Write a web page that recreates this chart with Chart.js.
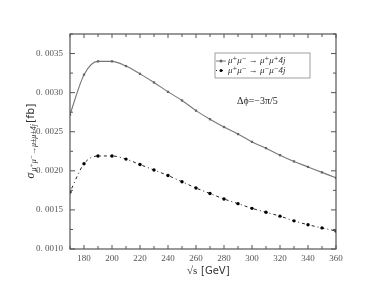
<!DOCTYPE html>
<html lang="en">
<head>
    <meta charset="UTF-8">
    <title>Cross section vs sqrt(s)</title>
    <script src="https://cdn.jsdelivr.net/npm/chart.js@4.4.1/dist/chart.umd.min.js"></script>
    <style>
        html, body { margin: 0; padding: 0; background: #fff; }
        #wrap { width: 390px; height: 299px; position: relative; }
    </style>
</head>
<body>
    <div id="wrap"><canvas id="chartSigma"></canvas></div>

    <script>
        // energies (GeV) and cross sections (fb)
        const energies = [170, 180, 190, 200, 210, 220, 230, 240, 250, 260, 270, 280, 290, 300, 310, 320, 330, 340, 350, 360];
        const sigmaPlusPlus = [0.00272, 0.00323, 0.00340, 0.00340, 0.00334, 0.00324, 0.00313, 0.00301, 0.00290, 0.00277,
                               0.00266, 0.00256, 0.00247, 0.00237, 0.00229, 0.00220, 0.00212, 0.00205, 0.00198, 0.00191];
        const sigmaMinusMinus = [0.00173, 0.00209, 0.00219, 0.00219, 0.00215, 0.00208, 0.00201, 0.00194, 0.00186, 0.00178,
                                 0.00171, 0.00164, 0.00158, 0.00152, 0.00147, 0.00142, 0.00136, 0.00131, 0.00127, 0.00123];
        const seriesNames = ['\u03BC\u207A\u03BC\u207B \u2192 \u03BC\u207A\u03BC\u207A4j', '\u03BC\u207A\u03BC\u207B \u2192 \u03BC\u207B\u03BC\u207B4j'];
        const xTickLabels = ['180', '200', '220', '240', '260', '280', '300', '320', '340', '360'];
        const yTickLabels = ['0. 0010', '0. 0015', '0. 0020', '0. 0025', '0. 0030', '0. 0035'];

        const serif = '"Liberation Serif", "DejaVu Serif", serif';
        const frameColor = '#555';

        // frame, inward ticks, legend, annotation and axis titles
        const decorations = {
            id: 'decorations',
            afterDraw(chart) {
                const ctx = chart.ctx;
                const a = chart.chartArea;
                const xs = chart.scales.x, ys = chart.scales.y;
                ctx.save();
                ctx.strokeStyle = frameColor;
                ctx.lineWidth = 1.2;
                ctx.strokeRect(a.left, a.top, a.right - a.left, a.bottom - a.top);
                ctx.lineWidth = 1;
                for (let v = 170; v <= 360; v += 10) {
                    const px = xs.getPixelForValue(v);
                    const len = v % 20 === 0 ? 4 : 3;
                    ctx.beginPath();
                    ctx.moveTo(px, a.bottom); ctx.lineTo(px, a.bottom - len);
                    ctx.moveTo(px, a.top); ctx.lineTo(px, a.top + len);
                    ctx.stroke();
                }
                for (let k = 4; k <= 15; k++) {
                    const py = ys.getPixelForValue(k * 0.00025);
                    const len = k % 2 === 0 ? 5 : 3;
                    ctx.beginPath();
                    ctx.moveTo(a.left, py); ctx.lineTo(a.left + len, py);
                    ctx.moveTo(a.right, py); ctx.lineTo(a.right - len, py);
                    ctx.stroke();
                }

                // legend box
                const lx = 215, ly = 53, lw = 95, lh = 25;
                ctx.strokeStyle = '#888';
                ctx.lineWidth = 0.8;
                ctx.strokeRect(lx, ly, lw, lh);
                const rows = [ly + 8, ly + 17.5];
                chart.data.datasets.forEach((ds, i) => {
                    ctx.strokeStyle = ds.borderColor;
                    ctx.lineWidth = 1;
                    ctx.setLineDash(ds.borderDash || []);
                    ctx.beginPath();
                    ctx.moveTo(lx + 1, rows[i]); ctx.lineTo(lx + 11, rows[i]);
                    ctx.stroke();
                    ctx.setLineDash([]);
                    ctx.fillStyle = ds.pointBackgroundColor;
                    ctx.beginPath();
                    ctx.arc(lx + 6, rows[i], 1.5, 0, Math.PI * 2);
                    ctx.fill();
                    ctx.fillStyle = '#333';
                    ctx.font = 'italic 9px ' + serif;
                    ctx.textBaseline = 'middle';
                    ctx.fillText(ds.label, lx + 13, rows[i]);
                });

                // annotation
                ctx.fillStyle = '#222';
                ctx.font = '10px ' + serif;
                ctx.textBaseline = 'middle';
                ctx.fillText('\u0394\u03D5=\u22123\u03C0/5', 237, 101);

                // x title
                ctx.fillStyle = '#333';
                ctx.font = '11px ' + serif;
                ctx.fillText('\u221As', 187, 271);
                ctx.font = '10px "DejaVu Sans", sans-serif';
                ctx.fillText('[GeV]', 201, 271);

                // y title (rotated)
                ctx.translate(31, 142);
                ctx.rotate(-Math.PI / 2);
                ctx.textBaseline = 'middle';
                const parts = [
                    { t: '\u03C3', f: 'italic 12px ' + serif, dy: 0 },
                    { t: '\u03BC\u207A\u03BC\u207B\u2192\u03BC\u00B1\u03BC\u00B14j', f: 'italic 8px ' + serif, dy: 3 },
                    { t: '[fb]', f: '11px "DejaVu Sans", sans-serif', dy: 0 }
                ];
                let total = 0;
                parts.forEach(p => { ctx.font = p.f; total += ctx.measureText(p.t).width; });
                let cx = -total / 2;
                parts.forEach(p => {
                    ctx.font = p.f;
                    ctx.fillText(p.t, cx, p.dy);
                    cx += ctx.measureText(p.t).width + 1;
                });
                ctx.restore();
            }
        };

        const ctxSigma = document.getElementById('chartSigma').getContext('2d');
        new Chart(ctxSigma, {
            type: 'line',
            data: {
                datasets: [
                    {
                        label: seriesNames[0],
                        data: energies.map((e, i) => ({ x: e, y: sigmaPlusPlus[i] })),
                        borderColor: '#777',
                        borderWidth: 1.1,
                        pointRadius: 1.6,
                        pointStyle: 'rect',
                        pointBackgroundColor: '#666',
                        pointBorderWidth: 0,
                        cubicInterpolationMode: 'monotone'
                    },
                    {
                        label: seriesNames[1],
                        data: energies.map((e, i) => ({ x: e, y: sigmaMinusMinus[i] })),
                        borderColor: '#222',
                        borderWidth: 1,
                        borderDash: [1, 3, 3, 3],
                        pointRadius: 1.7,
                        pointBackgroundColor: '#000',
                        pointBorderWidth: 0,
                        cubicInterpolationMode: 'monotone'
                    }
                ]
            },
            options: {
                responsive: true,
                maintainAspectRatio: false,
                animation: false,
                layout: { padding: { left: 0, right: 54, top: 34, bottom: 0 } },
                plugins: { legend: { display: false }, tooltip: { enabled: false } },
                scales: {
                    x: {
                        type: 'linear',
                        min: 170, max: 360,
                        grid: { display: false, drawTicks: false },
                        border: { display: false },
                        afterFit(s) { s.height = 50; },
                        afterBuildTicks(s) { s.ticks = xTickLabels.map(l => ({ value: +l })); },
                        ticks: {
                            padding: 4,
                            color: '#555',
                            font: { family: serif, size: 9 },
                            callback: (v) => String(v)
                        }
                    },
                    y: {
                        type: 'linear',
                        min: 0.0010, max: 0.00375,
                        grid: { display: false, drawTicks: false },
                        border: { display: false },
                        afterFit(s) { s.width = 70; },
                        afterBuildTicks(s) { s.ticks = yTickLabels.map(l => ({ value: parseFloat(l.replace(' ', '')) })); },
                        ticks: {
                            padding: 7,
                            color: '#555',
                            font: { family: serif, size: 9 },
                            callback: (v) => yTickLabels.find(l => Math.abs(parseFloat(l.replace(' ', '')) - v) < 1e-7)
                        }
                    }
                }
            },
            plugins: [decorations]
        });
    </script>
</body>
</html>
